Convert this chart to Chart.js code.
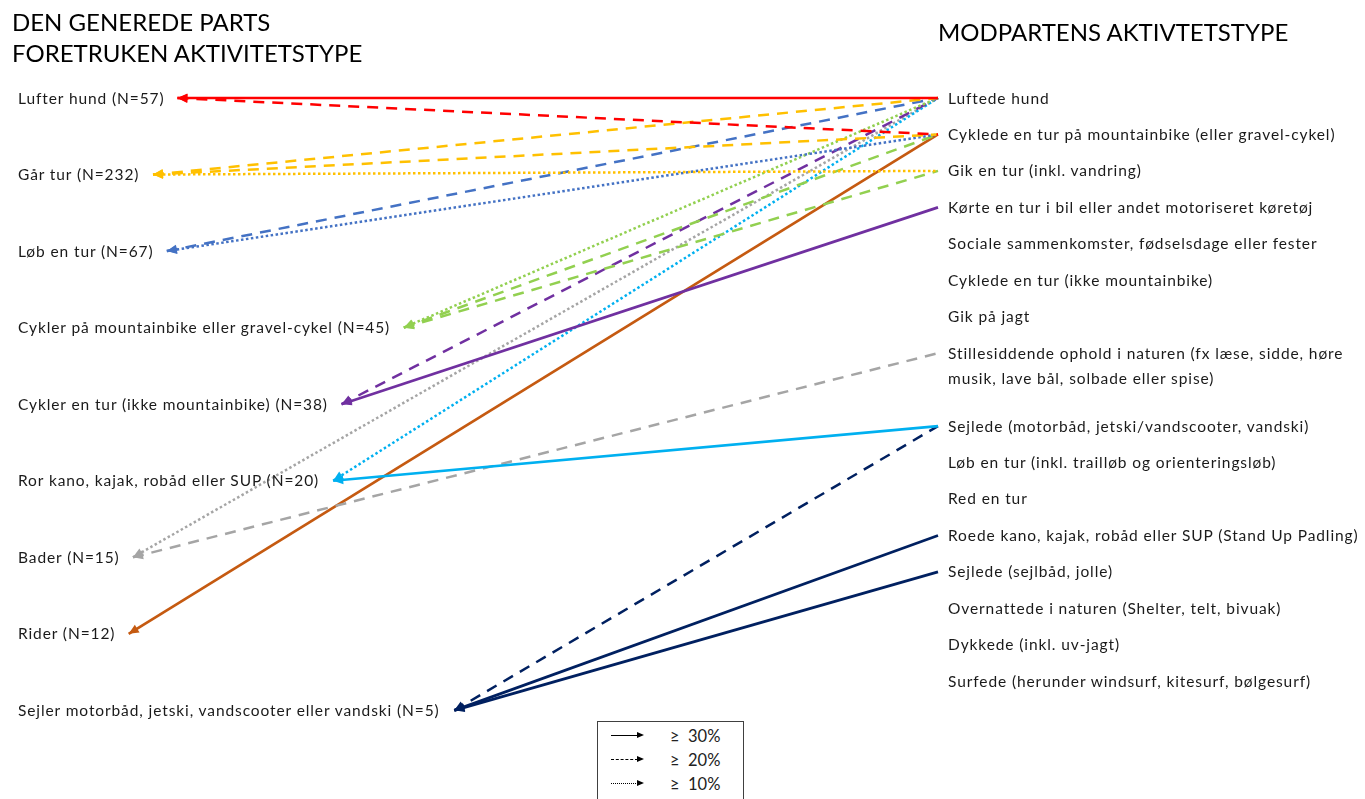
<!DOCTYPE html>
<html>
<head>
<meta charset="utf-8">
<script src="https://cdn.jsdelivr.net/npm/chart.js"></script>
<style>
  html, body { margin: 0; padding: 0; background: #fff; }
  #wrap { position: relative; width: 1365px; height: 799px; overflow: hidden;
          font-family: Lato, "Open Sans", sans-serif; color: #1a1a1a; }
  #chart { position: absolute; left: 0; top: 0; }
  .title { position: absolute; font-size: 24px; line-height: 31px; color: #000; white-space: nowrap; }
  .node { position: absolute; font-size: 15.5px; line-height: 25px; letter-spacing: 0.9px; white-space: nowrap; }
  #legend { position: absolute; left: 597px; top: 721px; width: 145px; height: 85px;
            border: 1px solid #404040; background: #fff; }
  .lrow { position: absolute; left: 0; width: 145px; height: 20px; }
  .lline { position: absolute; left: 13px; top: 9px; width: 27px; border-top: 1.5px solid #000; }
  .lhead { position: absolute; left: 39px; top: 6px; width: 0; height: 0;
           border-top: 3.5px solid transparent; border-bottom: 3.5px solid transparent;
           border-left: 7px solid #000; }
  .ltext { position: absolute; left: 72px; top: 0; font-size: 16.5px; line-height: 20px; color: #222; white-space: pre; }
</style>
</head>
<body>
<div id="wrap">
  <canvas id="chart" width="1365" height="799"></canvas>
  <div class="title" style="left:12px; top:6px;">DEN GENEREDE PARTS</div>
  <div class="title" style="left:12px; top:37px;">FORETRUKEN AKTIVITETSTYPE</div>
  <div class="title" style="left:938px; top:16px;">MODPARTENS AKTIVTETSTYPE</div>
  <div id="legend"></div>
</div>
<script>
// Left column: the generated party's preferred activity
const leftLabels = [
  "Lufter hund (N=57)",
  "Går tur (N=232)",
  "Løb en tur (N=67)",
  "Cykler på mountainbike eller gravel-cykel (N=45)",
  "Cykler en tur (ikke mountainbike) (N=38)",
  "Ror kano, kajak, robåd eller SUP (N=20)",
  "Bader (N=15)",
  "Rider (N=12)",
  "Sejler motorbåd, jetski, vandscooter eller vandski (N=5)"
];
const leftColors = ["#FF0000", "#FFC000", "#4472C4", "#92D050", "#7030A0",
                    "#00B0F0", "#A5A5A5", "#C55A11", "#002060"];

// Right column: the counterpart's activity (a label can span two lines)
const rightLabels = [
  ["Luftede hund"],
  ["Cyklede en tur på mountainbike (eller gravel-cykel)"],
  ["Gik en tur (inkl. vandring)"],
  ["Kørte en tur i bil eller andet motoriseret køretøj"],
  ["Sociale sammenkomster, fødselsdage eller fester"],
  ["Cyklede en tur (ikke mountainbike)"],
  ["Gik på jagt"],
  ["Stillesiddende ophold i naturen (fx læse, sidde, høre", "musik, lave bål, solbade eller spise)"],
  ["Sejlede (motorbåd, jetski/vandscooter, vandski)"],
  ["Løb en tur (inkl. trailløb og orienteringsløb)"],
  ["Red en tur"],
  ["Roede kano, kajak, robåd eller SUP (Stand Up Padling)"],
  ["Sejlede (sejlbåd, jolle)"],
  ["Overnattede i naturen (Shelter, telt, bivuak)"],
  ["Dykkede (inkl. uv-jagt)"],
  ["Surfede (herunder windsurf, kitesurf, bølgesurf)"]
];

// Links: counterpart activity (right index) -> preferred activity (left index), share class in %
const linkFrom  = [0, 1, 0, 1, 2, 0, 1, 0, 1, 2, 0, 3, 0, 8, 0, 7, 1, 8, 11, 12];
const linkTo    = [0, 0, 1, 1, 1, 2, 2, 3, 3, 3, 4, 4, 5, 5, 6, 6, 7, 8, 8, 8];
const linkShare = [30, 20, 20, 20, 10, 20, 10, 10, 20, 20, 20, 30, 10, 30, 10, 20, 30, 20, 30, 30];

const shareLevels = [30, 20, 10];

// layout
const W = 1365, H = 799;
const LEFT_X = 18, RIGHT_X = 948, RIGHT_END = 938, TIP_GAP = 13;
const ROW_PX = 36.45, TOP_PX = 98, LEFT_ROW = 2.1;
const LABEL_FONT = "15.5px Lato", LETTER_SP = 0.9;
const dashFor = { 30: [], 20: [11, 8], 10: [2.5, 2.5] };
const cssDash = { 30: "solid", 20: "dashed", 10: "dotted" };

// row of each right label = number of text lines above it
const rightRow = [];
let acc = 0;
rightLabels.forEach((lines) => { rightRow.push(acc); acc += lines.length; });

// arrow tip sits just after the end of the left label
const measure = document.createElement("canvas").getContext("2d");
measure.font = LABEL_FONT;
const tipX = leftLabels.map((t) =>
  LEFT_X + measure.measureText(t).width + t.length * LETTER_SP + TIP_GAP);

const datasets = linkFrom.map((from, k) => {
  const to = linkTo[k];
  return {
    data: [
      { x: tipX[to], y: to * LEFT_ROW },
      { x: RIGHT_END, y: rightRow[from] }
    ],
    showLine: true,
    borderColor: leftColors[to],
    borderWidth: linkShare[k] === 30 ? 2.7 : 2.5,
    borderDash: dashFor[linkShare[k]],
    borderCapStyle: "butt",
    pointRadius: 0,
    fill: false
  };
});

const arrowHeads = {
  id: "arrowHeads",
  afterDatasetsDraw(chart) {
    const ctx = chart.ctx;
    chart.data.datasets.forEach((ds, i) => {
      const pts = chart.getDatasetMeta(i).data;
      const tip = pts[0], tail = pts[1];
      const a = Math.atan2(tip.y - tail.y, tip.x - tail.x);
      ctx.save();
      ctx.translate(tip.x, tip.y);
      ctx.rotate(a);
      ctx.beginPath();
      ctx.moveTo(0, 0);
      ctx.lineTo(-10, -4.5);
      ctx.lineTo(-10, 4.5);
      ctx.closePath();
      ctx.fillStyle = ds.borderColor;
      ctx.fill();
      ctx.restore();
    });
  }
};

let labelsMade = false;
const nodeLabels = {
  id: "nodeLabels",
  afterLayout(chart) {
    if (labelsMade) return;
    labelsMade = true;
    const wrap = document.getElementById("wrap");
    const sx = chart.scales.x, sy = chart.scales.y;
    leftLabels.forEach((t, i) => {
      const d = document.createElement("div");
      d.className = "node";
      d.textContent = t;
      d.style.left = sx.getPixelForValue(LEFT_X) + "px";
      d.style.top = (sy.getPixelForValue(i * LEFT_ROW) - 12.5) + "px";
      wrap.appendChild(d);
    });
    rightLabels.forEach((lines, i) => {
      const d = document.createElement("div");
      d.className = "node";
      d.innerHTML = lines.join("<br>");
      d.style.left = sx.getPixelForValue(RIGHT_X) + "px";
      d.style.top = (sy.getPixelForValue(rightRow[i]) - 12.5) + "px";
      wrap.appendChild(d);
    });
  }
};

new Chart(document.getElementById("chart"), {
  type: "scatter",
  data: { datasets },
  options: {
    responsive: false,
    animation: false,
    layout: { padding: 0 },
    plugins: { legend: { display: false }, tooltip: { enabled: false } },
    scales: {
      x: { type: "linear", display: false, min: 0, max: W },
      y: { type: "linear", display: false, reverse: true,
           min: -TOP_PX / ROW_PX, max: (H - TOP_PX) / ROW_PX }
    }
  },
  plugins: [arrowHeads, nodeLabels]
});

// legend box
const legend = document.getElementById("legend");
shareLevels.forEach((lv, i) => {
  const row = document.createElement("div");
  row.className = "lrow";
  row.style.top = (4 + i * 24) + "px";
  row.innerHTML =
    '<div class="lline" style="border-top-style:' + cssDash[lv] + '"></div>' +
    '<div class="lhead"></div>' +
    '<div class="ltext">≥  ' + lv + '%</div>';
  legend.appendChild(row);
});
</script>
</body>
</html>
